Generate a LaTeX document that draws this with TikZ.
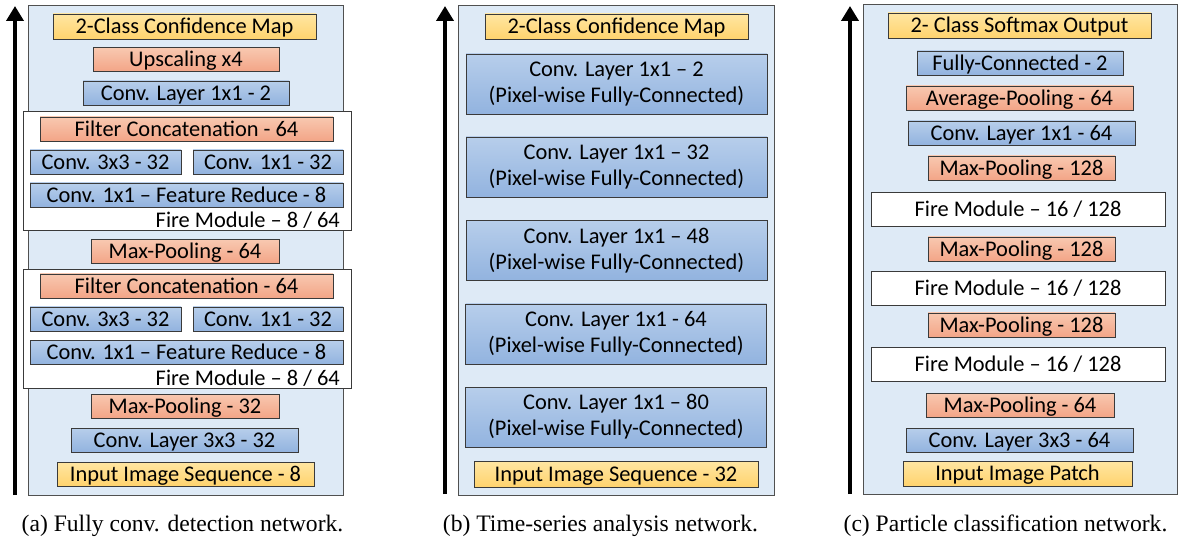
\documentclass[tikz,border=0pt]{standalone}
\usepackage{fontspec}
\setmainfont{Carlito}
\newfontfamily\capfont{Liberation Serif}
\usetikzlibrary{arrows.meta}

\definecolor{panelfill}{HTML}{DEEAF6}
\definecolor{paneledge}{HTML}{505050}
\definecolor{boxedge}{HTML}{3A3A3A}
\definecolor{yelT}{HTML}{FFE6A2}
\definecolor{yelB}{HTML}{FFD36E}
\definecolor{orgT}{HTML}{F8C8B0}
\definecolor{orgB}{HTML}{F3A587}
\definecolor{bluT}{HTML}{B7CEEB}
\definecolor{bluB}{HTML}{92B3DF}

\newcommand\layfont{\fontsize{22.4}{26}\selectfont}

\tikzset{
  panel/.style={draw=paneledge, line width=1pt, fill=panelfill, inner sep=0pt},
  layer/.style={draw=boxedge, line width=0.9pt, inner sep=0pt, font=\layfont, align=center},
  oneline/.style={text height=18.8pt, text depth=4.5pt},
  yel/.style={layer, oneline, top color=yelT, bottom color=yelB},
  org/.style={layer, oneline, top color=orgT, bottom color=orgB},
  blu/.style={layer, oneline, top color=bluT, bottom color=bluB},
  blutwo/.style={layer, top color=bluT, bottom color=bluB},
  firebox/.style={layer, fill=white},
  fireblock/.style={layer, oneline, fill=white},
  firelabel/.style={inner sep=0pt, font=\layfont, oneline, anchor=east},
  flowarrow/.style={line width=4.6pt, -{Triangle[width=17pt,length=15pt]}},
  caption/.style={inner sep=0pt, font=\capfont\fontsize{23.6}{26}\selectfont,
                  text height=20pt, text depth=4.4pt}
}

\begin{document}
\begin{tikzpicture}[x=1pt, y=-1pt]
\useasboundingbox (0,0) rectangle (1179,540);

% ---------------- (a) fully convolutional detection network
\coordinate (a-base) at (15,495);
\coordinate (a-tip) at (15,6);
\draw[flowarrow] (a-base) -- (a-tip);
\node[panel, minimum width=315pt, minimum height=489pt] (a-bg) at (185.5,250.5) {};

\node[yel, minimum width=263pt, minimum height=25pt] (a-out) at (184.5,26.5) {2-Class Confidence Map};
\node[org, minimum width=186pt, minimum height=23pt] (a-up) at (186,59.5) {Upscaling x4};
\node[blu, minimum width=206pt, minimum height=24pt] (a-c12) at (186,93) {Conv. Layer 1x1 - 2};

\node[firebox, minimum width=328pt, minimum height=119pt] (a-fire1) at (187,170.5) {};
\node[org, minimum width=293pt, minimum height=24pt] (a-cat1) at (186.5,129) {Filter Concatenation - 64};
\node[blu, minimum width=151pt, minimum height=24pt] (a-e3a) at (105.5,162) {Conv. 3x3 - 32};
\node[blu, minimum width=150pt, minimum height=24pt] (a-e1a) at (268,162) {Conv. 1x1 - 32};
\node[blu, minimum width=313pt, minimum height=24pt] (a-sq1) at (186.5,195) {Conv. 1x1 – Feature Reduce - 8};
\node[firelabel] (a-fl1) at (340,220) {Fire Module – 8 / 64};

\node[org, minimum width=188pt, minimum height=23pt] (a-mp64) at (185,251.5) {Max-Pooling - 64};

\node[firebox, minimum width=328pt, minimum height=119pt] (a-fire2) at (187,328.5) {};
\node[org, minimum width=293pt, minimum height=24pt] (a-cat2) at (186.5,286) {Filter Concatenation - 64};
\node[blu, minimum width=151pt, minimum height=24pt] (a-e3b) at (105.5,319) {Conv. 3x3 - 32};
\node[blu, minimum width=150pt, minimum height=24pt] (a-e1b) at (268,319) {Conv. 1x1 - 32};
\node[blu, minimum width=313pt, minimum height=24pt] (a-sq2) at (186.5,352.5) {Conv. 1x1 – Feature Reduce - 8};
\node[firelabel] (a-fl2) at (340,378) {Fire Module – 8 / 64};

\node[org, minimum width=188pt, minimum height=24pt] (a-mp32) at (185,406) {Max-Pooling - 32};
\node[blu, minimum width=227pt, minimum height=24pt] (a-c33) at (184.5,440) {Conv. Layer 3x3 - 32};
\node[yel, minimum width=257pt, minimum height=24pt] (a-in) at (185.5,474) {Input Image Sequence - 8};

\node[caption] (a-cap) at (182.5,524) {(a) Fully conv. detection network.};

% ---------------- (b) time-series analysis network
\coordinate (b-base) at (445,494);
\coordinate (b-tip) at (445,6);
\draw[flowarrow] (b-base) -- (b-tip);
\node[panel, minimum width=316pt, minimum height=489pt] (b-bg) at (616,250.5) {};

\node[yel, minimum width=263pt, minimum height=25pt] (b-out) at (616.5,26.5) {2-Class Confidence Map};
\node[blutwo, minimum width=301pt, minimum height=60pt] (b-l1) at (616.5,84) {Conv. Layer 1x1 – 2\\(Pixel-wise Fully-Connected)};
\node[blutwo, minimum width=301pt, minimum height=60pt] (b-l2) at (616.5,167) {Conv. Layer 1x1 – 32\\(Pixel-wise Fully-Connected)};
\node[blutwo, minimum width=301pt, minimum height=60pt] (b-l3) at (616.5,250.5) {Conv. Layer 1x1 – 48\\(Pixel-wise Fully-Connected)};
\node[blutwo, minimum width=301pt, minimum height=60pt] (b-l4) at (616,334) {Conv. Layer 1x1 - 64\\(Pixel-wise Fully-Connected)};
\node[blutwo, minimum width=301pt, minimum height=60pt] (b-l5) at (616,417) {Conv. Layer 1x1 – 80\\(Pixel-wise Fully-Connected)};
\node[yel, minimum width=284pt, minimum height=26pt] (b-in) at (616,474) {Input Image Sequence - 32};

\node[caption] (b-cap) at (600.5,524) {(b) Time-series analysis network.};

% ---------------- (c) particle classification network
\coordinate (c-base) at (850,494);
\coordinate (c-tip) at (850,6);
\draw[flowarrow] (c-base) -- (c-tip);
\node[panel, minimum width=314pt, minimum height=489pt] (c-bg) at (1020.5,249.5) {};

\node[yel, minimum width=263pt, minimum height=25pt] (c-out) at (1019.5,25.5) {2- Class Softmax Output};
\node[blu, minimum width=206pt, minimum height=24pt] (c-fc) at (1020,63) {Fully-Connected - 2};
\node[org, minimum width=227pt, minimum height=24pt] (c-avg) at (1019.5,98) {Average-Pooling - 64};
\node[blu, minimum width=227pt, minimum height=24pt] (c-c164) at (1021.5,133) {Conv. Layer 1x1 - 64};
\node[org, minimum width=187pt, minimum height=24pt] (c-mp1) at (1021.5,168) {Max-Pooling - 128};
\node[fireblock, minimum width=294pt, minimum height=34pt] (c-f1) at (1018,209) {Fire Module – 16 / 128};
\node[org, minimum width=187pt, minimum height=24pt] (c-mp2) at (1021.5,249) {Max-Pooling - 128};
\node[fireblock, minimum width=294pt, minimum height=34pt] (c-f2) at (1018,288) {Fire Module – 16 / 128};
\node[org, minimum width=187pt, minimum height=24pt] (c-mp3) at (1021.5,325) {Max-Pooling - 128};
\node[fireblock, minimum width=294pt, minimum height=34pt] (c-f3) at (1018,364) {Fire Module – 16 / 128};
\node[org, minimum width=188pt, minimum height=24pt] (c-mp4) at (1020,405) {Max-Pooling - 64};
\node[blu, minimum width=227pt, minimum height=24pt] (c-c364) at (1019.5,440) {Conv. Layer 3x3 - 64};
\node[yel, minimum width=229pt, minimum height=25pt] (c-in) at (1017.5,473.5) {Input Image Patch};

\node[caption] (c-cap) at (1005.5,524) {(c) Particle classification network.};
\end{tikzpicture}
\end{document}
